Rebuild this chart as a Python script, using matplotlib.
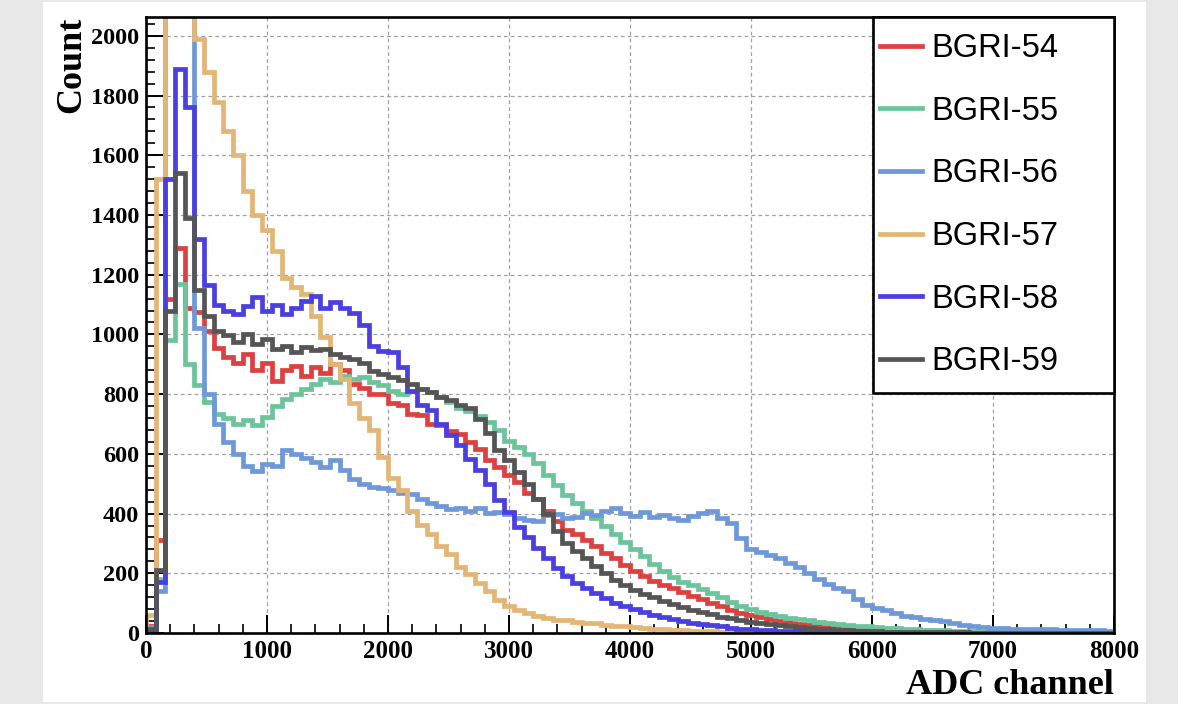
import numpy as np
import matplotlib
matplotlib.use("Agg")
import matplotlib.pyplot as plt
from matplotlib.patches import Rectangle
from matplotlib.lines import Line2D

# ADC spectra, 80-channel bins from 0 to 8000
adc_edges = np.linspace(0, 8000, 101)

labels = ["BGRI-54", "BGRI-55", "BGRI-56", "BGRI-57", "BGRI-58", "BGRI-59"]
colors = ["#dc4040", "#6cc49a", "#6f98d8", "#e4b676", "#4a3fe0", "#555555"]

bgri54 = [25, 310, 1120, 1290, 1090, 1075, 1010, 955, 925, 905,
          935, 880, 905, 845, 880, 895, 860, 890, 870, 900,
          880, 835, 820, 800, 800, 770, 765, 735, 730, 700,
          695, 675, 665, 640, 615, 580, 555, 530, 505, 470,
          450, 410, 375, 345, 330, 312, 290, 268, 250, 228,
          208, 192, 175, 162, 150, 137, 124, 113, 100, 90,
          78, 68, 60, 52, 46, 41, 36, 31, 27, 23,
          20, 17, 15, 13, 11, 10, 9, 8, 7, 6,
          5, 5, 4, 4, 3, 3, 3, 2, 2, 2,
          2, 1, 1, 1, 1, 1, 1, 1, 1, 1]

bgri55 = [15, 180, 980, 1170, 900, 830, 775, 735, 720, 700,
          712, 698, 722, 760, 785, 800, 818, 835, 850, 842,
          860, 850, 858, 842, 832, 812, 800, 812, 818, 806,
          790, 772, 755, 742, 728, 706, 680, 642, 622, 600,
          568, 528, 495, 462, 436, 410, 385, 360, 332, 305,
          280, 258, 232, 208, 188, 172, 160, 148, 135, 120,
          105, 92, 80, 70, 62, 56, 50, 46, 42, 38,
          34, 30, 27, 24, 22, 20, 18, 16, 14, 12,
          11, 10, 9, 8, 7, 6, 5, 5, 4, 4,
          3, 3, 3, 2, 2, 2, 2, 1, 1, 1]

bgri56 = [20, 140, 2400, 2400, 2350, 1020, 800, 700, 640, 600,
          560, 542, 565, 560, 612, 598, 585, 572, 556, 578,
          545, 515, 498, 490, 486, 478, 470, 466, 448, 436,
          424, 414, 420, 410, 418, 402, 406, 398, 385, 380,
          376, 395, 400, 386, 390, 402, 394, 410, 420, 402,
          392, 405, 390, 396, 384, 380, 392, 402, 410, 385,
          370, 318, 282, 270, 262, 250, 236, 220, 200, 180,
          165, 150, 140, 115, 95, 85, 78, 68, 58, 52,
          48, 45, 40, 35, 28, 24, 20, 18, 16, 15,
          14, 13, 12, 12, 11, 10, 10, 9, 9, 8]

bgri57 = [60, 1520, 2500, 2500, 2450, 1990, 1880, 1780, 1680, 1600,
          1480, 1400, 1350, 1280, 1190, 1160, 1135, 1060, 990, 900,
          850, 770, 720, 680, 590, 520, 480, 410, 362, 332,
          292, 265, 222, 196, 166, 140, 112, 92, 78, 66,
          56, 50, 45, 42, 38, 35, 32, 28, 25, 22,
          20, 17, 15, 13, 11, 9, 8, 7, 6, 5,
          4, 4, 3, 3, 2, 2, 2, 1, 1, 1,
          1, 1, 1, 1, 1, 1, 1, 1, 1, 1,
          0, 0, 0, 0, 0, 0, 0, 0, 0, 0,
          0, 0, 0, 0, 0, 0, 0, 0, 0, 0]

bgri58 = [10, 170, 1520, 1890, 1760, 1320, 1165, 1100, 1080, 1068,
          1095, 1125, 1080, 1100, 1070, 1088, 1112, 1130, 1090, 1108,
          1088, 1072, 1030, 962, 945, 940, 892, 810, 765, 748,
          700, 662, 628, 582, 545, 500, 445, 405, 356, 320,
          284, 250, 218, 190, 166, 150, 135, 116, 102, 90,
          79, 70, 60, 53, 46, 40, 35, 30, 26, 22,
          18, 15, 13, 11, 9, 8, 7, 6, 5, 4,
          4, 3, 3, 2, 2, 2, 1, 1, 1, 1,
          1, 1, 1, 1, 1, 1, 0, 0, 0, 0,
          0, 0, 0, 0, 0, 0, 0, 0, 0, 0]

bgri59 = [15, 210, 1080, 1540, 1390, 1150, 1060, 1010, 998, 975,
          1002, 968, 985, 950, 962, 940, 958, 948, 952, 935,
          925, 916, 905, 876, 866, 858, 846, 835, 818, 808,
          792, 780, 765, 752, 716, 670, 612, 578, 538, 500,
          450, 400, 342, 302, 276, 250, 226, 200, 178, 160,
          145, 132, 120, 108, 98, 88, 78, 70, 62, 55,
          50, 44, 38, 34, 30, 26, 22, 19, 16, 14,
          12, 10, 9, 8, 7, 6, 5, 5, 4, 4,
          3, 3, 2, 2, 2, 1, 1, 1, 1, 1,
          1, 1, 1, 1, 1, 1, 1, 1, 1, 1]

series = [bgri54, bgri55, bgri56, bgri57, bgri58, bgri59]

x_ticks = [0, 1000, 2000, 3000, 4000, 5000, 6000, 7000, 8000]
y_ticks = [0, 200, 400, 600, 800, 1000, 1200, 1400, 1600, 1800, 2000]

W, H = 1178, 704
fig = plt.figure(figsize=(W / 100, H / 100), dpi=100)
fig.patch.set_facecolor("#e8e8e8")
panel = Rectangle((43 / W, 2 / H), (1146 - 43) / W, (702 - 2) / H,
                  transform=fig.transFigure, facecolor="white",
                  edgecolor="none", zorder=-5)
fig.add_artist(panel)

ax = fig.add_axes([146 / W, 1 - 633 / H, (1114 - 146) / W, (633 - 17) / H])
ax.set_zorder(2)
ax.set_facecolor("white")

line_w = 3.4
for vals, col in zip(series, colors):
    ax.stairs(vals, adc_edges, color=col, linewidth=line_w, zorder=3)

ax.set_xlim(0, 8000)
ax.set_ylim(0, 2063)
ax.set_xticks(x_ticks)
ax.set_yticks(y_ticks)
ax.set_xticks(np.arange(0, 8001, 200), minor=True)
ax.set_yticks(np.arange(0, 2061, 40), minor=True)

serif = "Liberation Serif"
ax.set_xticklabels([str(v) for v in x_ticks], family=serif, weight="bold", fontsize=18)
ax.set_yticklabels([str(v) for v in y_ticks], family=serif, weight="bold", fontsize=17.5)
ax.tick_params(which="major", direction="in", length=13, width=1.4, pad=5)
ax.tick_params(which="minor", direction="in", length=6.5, width=1.2)

for sp in ax.spines.values():
    sp.set_linewidth(1.9)
    sp.set_zorder(6)

ax.grid(which="major", color="#a0a0a0", linestyle=(0, (3, 2.5)), linewidth=0.9, zorder=1)
ax.set_axisbelow(True)

ax.set_ylabel("Count", family=serif, weight="bold", fontsize=26, loc="top", labelpad=2)
ax.set_xlabel("ADC channel", family=serif, weight="bold", fontsize=26, loc="right", labelpad=4)

# legend box
x0 = (873 - 146) / (1114 - 146)
y0 = (633 - 393) / (633 - 17)
ax.add_patch(Rectangle((x0, y0), 1 - x0, 1 - y0, transform=ax.transAxes,
                       facecolor="white", edgecolor="black", linewidth=1.9,
                       zorder=7, clip_on=False))
handles = [Line2D([], [], color=c, linewidth=line_w) for c in colors]
leg = ax.legend(handles, labels, loc="upper left",
                bbox_to_anchor=((880 - 146) / (1114 - 146), (633 - 33) / (633 - 17)),
                frameon=False, borderpad=0, borderaxespad=0,
                handlelength=1.3, handletextpad=0.28, labelspacing=0.97,
                prop={"family": "Liberation Sans", "size": 23.5})
leg.set_zorder(8)

fig.savefig("out.png", dpi=100, facecolor=fig.get_facecolor())
